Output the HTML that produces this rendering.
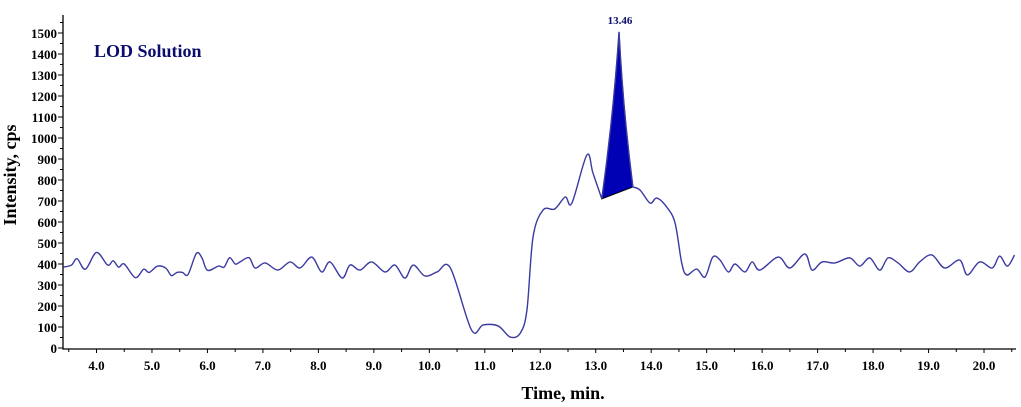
<!DOCTYPE html>
<html><head><meta charset="utf-8"><style>
html,body{margin:0;padding:0;background:#fff;}
svg{display:block;font-family:"Liberation Serif",serif;font-weight:bold;}
</style></head><body>
<svg id="chart" width="1021" height="407">
<g id="axes"></g>
<g id="plot"></g>
<text x="94" y="57" font-size="18" fill="#0c0c6e">LOD Solution</text>
<text x="563" y="399" font-size="18" text-anchor="middle" fill="#000">Time, min.</text>
<text transform="translate(16,175) rotate(-90)" font-size="18" text-anchor="middle" fill="#000">Intensity, cps</text>
</svg>
<script>
const times=[3.40,3.55,3.65,3.80,4.00,4.20,4.30,4.40,4.50,4.70,4.85,4.95,5.10,5.25,5.35,5.45,5.55,5.65,5.80,5.90,6.00,6.20,6.30,6.40,6.50,6.59,6.75,6.86,7.04,7.27,7.49,7.67,7.88,8.06,8.21,8.43,8.57,8.75,8.96,9.20,9.38,9.56,9.71,9.92,10.14,10.38,10.76,10.97,11.24,11.46,11.64,11.76,11.87,12.05,12.26,12.45,12.57,12.84,12.95,13.11,13.42,13.67,13.80,13.98,14.10,14.28,14.43,14.55,14.64,14.82,14.97,15.11,15.24,15.39,15.51,15.69,15.82,15.96,16.29,16.50,16.77,16.90,17.08,17.31,17.58,17.76,17.94,18.12,18.27,18.45,18.66,18.84,19.06,19.29,19.56,19.70,19.92,20.15,20.28,20.42,20.55];
const intensity=[385,395,425,375,455,395,415,385,400,335,375,360,390,380,345,360,360,350,450,430,370,390,385,430,400,410,430,381,405,371,410,381,433,362,410,333,395,371,410,362,395,333,395,343,362,381,86,110,105,52,71,181,529,657,662,719,690,919,833,710,1505,767,752,690,714,671,595,405,348,376,338,433,419,362,400,362,410,371,433,381,448,371,410,405,429,390,429,371,429,405,362,410,443,381,419,348,410,381,438,390,443];
const peakLabel="13.46";
const peakStart=13.11, peakTop=13.42, peakEnd=13.67;
const yTicks=[0,100,200,300,400,500,600,700,800,900,1000,1100,1200,1300,1400,1500];
const xTicks=[4,5,6,7,8,9,10,11,12,13,14,15,16,17,18,19,20];
const NS="http://www.w3.org/2000/svg";
const X=t=>96.5+(t-4)*55.47, Y=v=>348-v*0.21;
const axes=document.getElementById('axes'), plot=document.getElementById('plot');
function mk(tag,at,parent){const e=document.createElementNS(NS,tag);for(const k in at)e.setAttribute(k,at[k]);parent.appendChild(e);return e;}
let l=mk('path',{d:'M63,15 V349 H1016',stroke:'#000','stroke-width':1.3,fill:'none'},axes);


for(let v=0;v<=1550;v+=50){mk('line',{x1:v%100?60:58,x2:63,y1:Y(v),y2:Y(v),stroke:'#000'},axes);}
yTicks.forEach(v=>{const t=mk('text',{x:57,y:Y(v)+5,'font-size':13,'text-anchor':'end'},axes);t.textContent=v;

});
for(let t=3.5;t<=20.5;t+=0.5){mk('line',{x1:X(t),x2:X(t),y1:349,y2:t%1?352:353,stroke:'#000'},axes);}
xTicks.forEach(v=>{const t=mk('text',{x:X(v),y:370,'font-size':13,'text-anchor':'middle'},axes);t.textContent=v.toFixed(1);

});
const pts=times.map((t,i)=>[X(t),Y(intensity[i])]);
const i0=times.indexOf(peakStart), i1=times.indexOf(peakEnd);
function seg(i){const p1=pts[i],p2=pts[i+1];
const p0=(i===i0+1||i===i1)?p1:pts[Math.max(i-1,0)];
const p3=(i+1===i0)?p2:pts[Math.min(i+2,pts.length-1)];
return `C${p1[0]+(p2[0]-p0[0])/6},${p1[1]+(p2[1]-p0[1])/6} ${p2[0]-(p3[0]-p1[0])/6},${p2[1]-(p3[1]-p1[1])/6} ${p2[0]},${p2[1]}`;}
function pk(i){const a=pts[i],b=pts[i+1];const mx=(a[0]+b[0])/2,my=(a[1]+b[1])/2;
const cx=a[1]>b[1]?mx+3:mx-3;return `Q${cx},${my} ${b[0]},${b[1]}`;}
let fd=`M${pts[i0][0]},${pts[i0][1]}`;for(let i=i0;i<i1;i++)fd+=pk(i);fd+='Z';
const fill=mk('path',{d:fd,fill:'#0000b4',stroke:'#000','stroke-width':1},plot);


let d=`M${pts[0][0]},${pts[0][1]}`;for(let i=0;i<pts.length-1;i++){d+=(i>=i0&&i<i1)?pk(i):seg(i);}
const line=mk('path',{d:d,fill:'none',stroke:'#3a3aa0','stroke-width':1.4},plot);


const pl=mk('text',{x:X(peakTop)+1,y:Y(intensity[times.indexOf(peakTop)])-8,'font-size':11,'text-anchor':'middle',fill:'#0c0c6e'},plot);
pl.textContent=peakLabel;


</script>
</body></html>
